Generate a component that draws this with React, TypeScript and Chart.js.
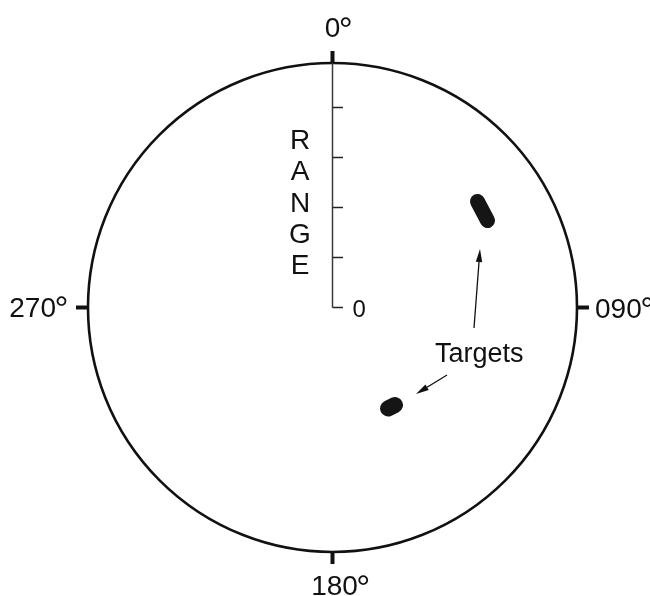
import { useEffect, useRef } from 'react';
import { Chart, registerables } from 'chart.js';

Chart.register(...registerables);

// ---- data (range units; bearings in degrees) ----
const RANGE_MAX = 4.89; // radius of the display circle
const rangeTicks = [0, 1, 2, 3, 4];
const rangeTickLabels = ['0', '', '', '', ''];
const rangeTitle = ['R', 'A', 'N', 'G', 'E'];
const bearings = [0, 90, 180, 270];
const bearingLabels = ['0', '090', '180', '270'];

// target returns, east / north offsets in range units (ends of each smear)
const target1East = [2.9, 3.1];
const target1North = [2.12, 1.74];
const target2East = [1.11, 1.25];
const target2North = [-2.02, -1.95];

// annotation
const annotationText = 'Targets';
const annotationEast = 2.05;
const annotationNorth = -1.09;
const arrowTailEast = [2.83, 2.29];
const arrowTailNorth = [-0.41, -1.35];
const arrowTipEast = [2.95, 1.67];
const arrowTipNorth = [1.17, -1.73];

// view window (range units)
const X_MIN = -6.65;
const X_MAX = 6.35;
const Y_MIN = -5.77;
const Y_MAX = 6.15;

const FONT = '"Liberation Sans", Arial, Helvetica, sans-serif';

const radarPlugin = {
  id: 'radarDisplay',
  afterDatasetsDraw(chart: any) {
    const { ctx } = chart;
    const xs = chart.scales.x;
    const ys = chart.scales.y;
    const P = (e: number, n: number) => [xs.getPixelForValue(e), ys.getPixelForValue(n)];
    const [cx, cy] = P(0, 0);
    const rPx = xs.getPixelForValue(RANGE_MAX) - cx;
    ctx.save();

    // outer circle
    ctx.beginPath();
    ctx.arc(cx, cy, rPx, 0, Math.PI * 2);
    ctx.lineWidth = 2.6;
    ctx.strokeStyle = '#111';
    ctx.stroke();

    // bearing ticks + labels
    const drawLabel = (num: string, left: number, base: number) => {
      ctx.font = `28px ${FONT}`;
      ctx.textAlign = 'left';
      ctx.textBaseline = 'alphabetic';
      ctx.fillStyle = '#111';
      ctx.fillText(num, left, base);
      const w = ctx.measureText(num).width;
      ctx.font = `35px ${FONT}`;
      ctx.fillText('°', left + w - 1.5, base + 4.5);
    };
    bearings.forEach((b, i) => {
      const rad = (b * Math.PI) / 180;
      const s = Math.sin(rad);
      const c = Math.cos(rad);
      const [x1, y1] = P(RANGE_MAX * s, RANGE_MAX * c);
      ctx.beginPath();
      ctx.moveTo(x1, y1);
      ctx.lineTo(x1 + s * 12, y1 - c * 12);
      ctx.lineWidth = 4;
      ctx.lineCap = 'butt';
      ctx.strokeStyle = '#111';
      ctx.stroke();

      const num = bearingLabels[i];
      ctx.font = `28px ${FONT}`;
      const numW = ctx.measureText(num).width;
      if (b === 0) {
        drawLabel(num, x1 - numW / 2, y1 - 26);
      } else if (b === 180) {
        drawLabel(num, x1 - numW / 2 + 2, y1 + 43);
      } else if (b === 90) {
        drawLabel(num, x1 + 18, y1 + 10);
      } else {
        drawLabel(num, x1 - 32 - numW, y1 + 9);
      }
    });

    // range axis
    const [ax0, ay0] = P(0, 0);
    const [, ay1] = P(0, RANGE_MAX);
    ctx.beginPath();
    ctx.moveTo(ax0, ay0);
    ctx.lineTo(ax0, ay1);
    ctx.lineWidth = 1.5;
    ctx.strokeStyle = '#3a3a3a';
    ctx.stroke();
    rangeTicks.forEach((t, i) => {
      const [tx, ty] = P(0, t);
      ctx.beginPath();
      ctx.moveTo(tx, ty);
      ctx.lineTo(tx + 10.5, ty);
      ctx.lineWidth = 1.5;
      ctx.strokeStyle = '#222';
      ctx.stroke();
      if (rangeTickLabels[i]) {
        ctx.font = `24px ${FONT}`;
        ctx.fillStyle = '#111';
        ctx.textAlign = 'left';
        ctx.textBaseline = 'alphabetic';
        ctx.fillText(rangeTickLabels[i], tx + 20, ty + 9.5);
      }
    });

    // range title, stacked vertically
    ctx.font = `28px ${FONT}`;
    ctx.fillStyle = '#111';
    ctx.textAlign = 'center';
    ctx.textBaseline = 'alphabetic';
    rangeTitle.forEach((ch, i) => {
      ctx.fillText(ch, ax0 - 32.5, ay1 + 86 + i * 31.3);
    });

    // annotation text
    const [lx, ly] = P(annotationEast, annotationNorth);
    ctx.font = `27px ${FONT}`;
    ctx.textAlign = 'left';
    ctx.fillText(annotationText, lx, ly);

    // arrows
    arrowTailEast.forEach((_, i) => {
      const [tx, ty] = P(arrowTailEast[i], arrowTailNorth[i]);
      const [hx, hy] = P(arrowTipEast[i], arrowTipNorth[i]);
      const ang = Math.atan2(hy - ty, hx - tx);
      const headLen = 13;
      const headW = 3.2;
      const bx = hx - Math.cos(ang) * headLen;
      const by = hy - Math.sin(ang) * headLen;
      ctx.beginPath();
      ctx.moveTo(tx, ty);
      ctx.lineTo(bx, by);
      ctx.lineWidth = 1.3;
      ctx.strokeStyle = '#111';
      ctx.stroke();
      ctx.beginPath();
      ctx.moveTo(hx, hy);
      ctx.lineTo(bx - Math.sin(ang) * headW, by + Math.cos(ang) * headW);
      ctx.lineTo(bx + Math.sin(ang) * headW, by - Math.cos(ang) * headW);
      ctx.closePath();
      ctx.fillStyle = '#111';
      ctx.fill();
    });

    ctx.restore();
  },
};

export default function App() {
  const ref = useRef<HTMLCanvasElement | null>(null);
  useEffect(() => {
    document.body.style.margin = '0';
    if (!ref.current) return;
    const mk = (e: number[], n: number[], w: number) => ({
      data: e.map((v, i) => ({ x: v, y: n[i] })),
      showLine: true,
      borderColor: '#151515',
      backgroundColor: '#151515',
      borderWidth: w,
      borderCapStyle: 'round' as const,
      pointRadius: 0,
      pointHoverRadius: 0,
    });
    const chart = new Chart(ref.current, {
      type: 'scatter',
      data: {
        datasets: [
          mk(target1East, target1North, 15),
          mk(target2East, target2North, 16),
        ],
      },
      options: {
        responsive: false,
        animation: false,
        events: [],
        layout: { padding: 0 },
        plugins: { legend: { display: false }, tooltip: { enabled: false } },
        scales: {
          x: { type: 'linear', min: X_MIN, max: X_MAX, display: false },
          y: { type: 'linear', min: Y_MIN, max: Y_MAX, display: false },
        },
      },
      plugins: [radarPlugin],
    });
    return () => chart.destroy();
  }, []);
  return (
    <div style={{ width: 650, height: 596, background: '#fff' }}>
      <canvas ref={ref} width={650} height={596} style={{ display: 'block' }} />
    </div>
  );
}
